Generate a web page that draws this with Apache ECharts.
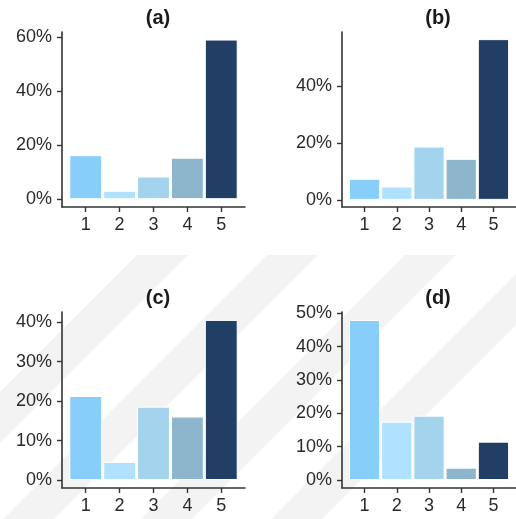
<!DOCTYPE html>
<html>
<head>
<meta charset="utf-8">
<script src="https://cdn.jsdelivr.net/npm/echarts@6/dist/echarts.min.js"></script>
<style>
html,body{margin:0;padding:0;background:#fff;}
#chart{width:516px;height:519px;}
</style>
</head>
<body>
<div id="chart"></div>
<script>
// ---- data ----
var categories = [1, 2, 3, 4, 5];
var panelTitles = ['(a)', '(b)', '(c)', '(d)'];
var valuesA = [16.3, 3.1, 8.4, 15.4, 59.2];
var valuesB = [7.4, 4.7, 18.7, 14.4, 56.4];
var valuesC = [21.3, 4.6, 18.6, 16.1, 40.6];
var valuesD = [48.0, 17.5, 19.3, 3.7, 11.5];
var ticksA = [0, 20, 40, 60];
var ticksB = [0, 20, 40];
var ticksC = [0, 10, 20, 30, 40];
var ticksD = [0, 10, 20, 30, 40, 50];

// ---- styling / layout ----
var barColors = ['#87CEFA', '#B0E2FF', '#A4D3EE', '#8DB6CD', '#213F64'];
var font = 'Liberation Sans, Arial, Helvetica, sans-serif';
var textColor = '#2a2a2a';
var lineColor = '#333333';

var panels = [
  {values: valuesA, ticks: ticksA, grid: {left: 62, top: 32, width: 183, height: 175}, ymin: -2.9, ymax: 62, tx: 153, ty: 3},
  {values: valuesB, ticks: ticksB, grid: {left: 342, top: 32, width: 182, height: 175}, ymin: -2.5, ymax: 58.9, tx: 433, ty: 3},
  {values: valuesC, ticks: ticksC, grid: {left: 62, top: 312, width: 183, height: 176}, ymin: -2.03, ymax: 42.6, tx: 153, ty: 283},
  {values: valuesD, ticks: ticksD, grid: {left: 342, top: 312, width: 182, height: 176}, ymin: -2.4, ymax: 50.4, tx: 433, ty: 283}
];

var grids = [], xAxes = [], yAxes = [], series = [], titles = [];
panels.forEach(function (p, i) {
  grids.push(Object.assign({containLabel: false}, p.grid));
  titles.push({
    text: panelTitles[i], left: p.tx, top: p.ty, textAlign: 'center',
    textStyle: {fontFamily: font, fontSize: 20, fontWeight: 'bold', color: '#1a1a1a'}
  });
  xAxes.push({
    type: 'value', gridIndex: i, min: 0.3, max: 5.7,
    axisLine: {show: true, onZero: false, lineStyle: {color: lineColor, width: 1.6}},
    axisTick: {show: true, length: 5, customValues: categories, lineStyle: {color: lineColor, width: 1.4}},
    axisLabel: {customValues: categories, margin: 9, fontFamily: font, fontSize: 18, color: textColor,
      formatter: function (v) { return String(v); }},
    splitLine: {show: false}
  });
  yAxes.push({
    type: 'value', gridIndex: i, min: p.ymin, max: p.ymax,
    axisLine: {show: true, onZero: false, lineStyle: {color: lineColor, width: 1.6}},
    axisTick: {show: true, length: 5, customValues: p.ticks, lineStyle: {color: lineColor, width: 1.4}},
    axisLabel: {customValues: p.ticks, margin: 10, fontFamily: font, fontSize: 18, color: textColor,
      formatter: function (v) { return v + '%'; }},
    splitLine: {show: false}
  });
  series.push({
    type: 'bar', xAxisIndex: i, yAxisIndex: i, barWidth: '97%',
    data: categories.map(function (c, k) {
      return {value: [c, p.values[k]], itemStyle: {color: barColors[k]}};
    }),
    itemStyle: {borderColor: '#ffffff', borderWidth: 1},
    silent: true
  });
});

// faint diagonal watermark stripes in the background
var stripeTops = [137, 267, 405, 535];
var graphics = stripeTops.map(function (x0) {
  return {
    type: 'polygon', z: -10, silent: true,
    shape: {points: [[x0, 255], [x0 + 51, 255], [x0 + 51 - 300, 555], [x0 - 300, 555]]},
    style: {fill: '#F3F3F3'}
  };
});

var chart = echarts.init(document.getElementById('chart'), null, {renderer: 'canvas'});
chart.setOption({
  animation: false,
  backgroundColor: '#ffffff',
  title: titles,
  grid: grids,
  xAxis: xAxes,
  yAxis: yAxes,
  series: series,
  graphic: graphics
});
</script>
</body>
</html>
